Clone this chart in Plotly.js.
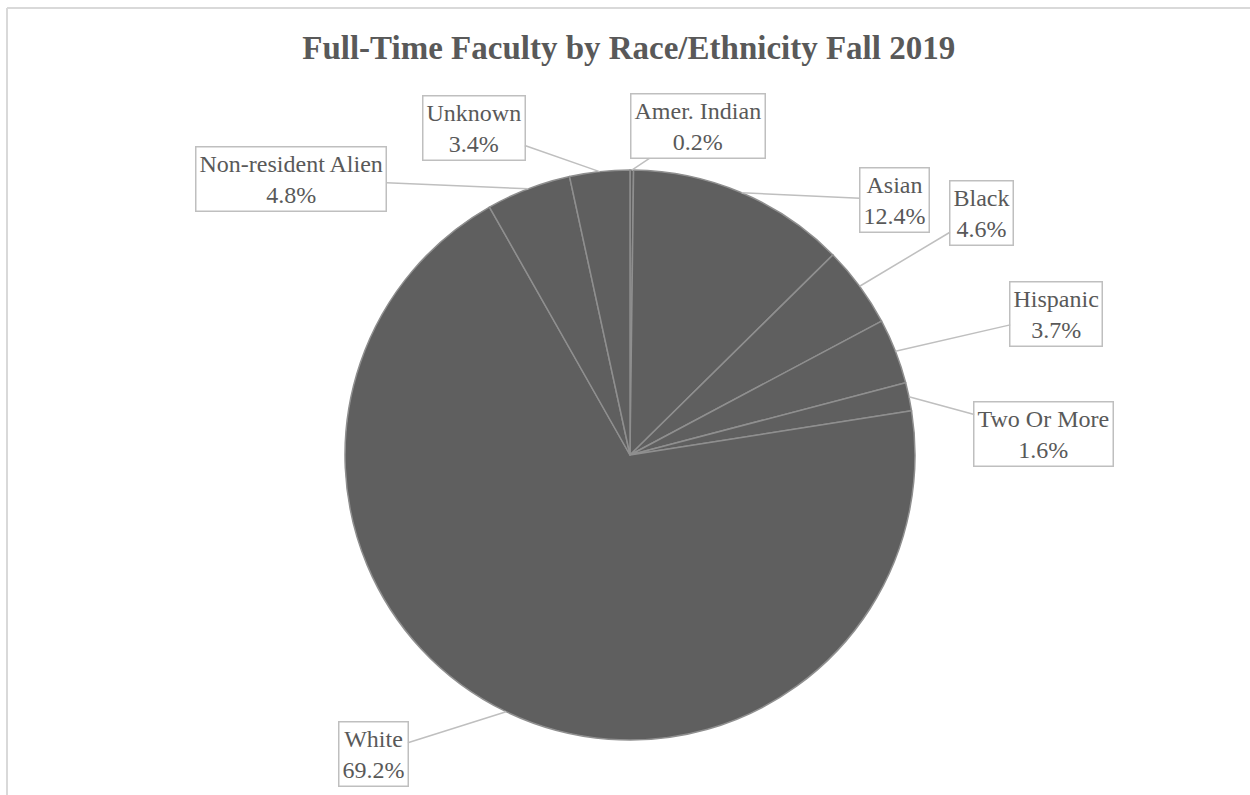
<!DOCTYPE html>
<html>
<head>
<meta charset="utf-8">
<script src="https://cdn.plot.ly/plotly-3.0.1.min.js"></script>
<style>
  html, body { margin: 0; padding: 0; background: #ffffff; }
  #chart { width: 1250px; height: 795px; }
</style>
</head>
<body>
<div id="chart"></div>
<script>
// ---- Data ----
const categories = ["Amer. Indian", "Asian", "Black", "Hispanic", "Two Or More", "White", "Non-resident Alien", "Unknown"];
const percentages = [0.2, 12.4, 4.6, 3.7, 1.6, 69.2, 4.8, 3.4];
const valueLabels = ["0.2%", "12.4%", "4.6%", "3.7%", "1.6%", "69.2%", "4.8%", "3.4%"];

// ---- Layout constants (pixels) ----
const W = 1250, H = 795;
const CX = 630, CY = 455, R = 285;
// label-box centre offsets from each slice's edge point (pixels)
const labelOffsets = [
  [66, -44],   // Amer. Indian
  [153, 7],    // Asian
  [122, -73],  // Black
  [161, -37],  // Hispanic
  [135, 37],   // Two Or More
  [-133, 42],  // White
  [-237, -10], // Non-resident Alien
  [-126, -44]  // Unknown
];

const textColor = '#595959';
const boxColor = '#bfbfbf';
const font = 'Liberation Serif, Times New Roman, serif';

// anchor points on pie edge derived from the data
const total = percentages.reduce((a, b) => a + b, 0);
let cum = 0;
const annotations = categories.map((c, i) => {
  const mid = (cum + percentages[i] / 2) / total;
  cum += percentages[i];
  const ang = mid * 2 * Math.PI; // clockwise from 12 o'clock
  const px = CX + R * Math.sin(ang);
  const py = CY - R * Math.cos(ang);
  return {
    xref: 'paper', yref: 'paper',
    x: px / W, y: 1 - py / H,
    ax: labelOffsets[i][0], ay: labelOffsets[i][1],
    axref: 'pixel', ayref: 'pixel',
    text: c + '<br>' + valueLabels[i],
    showarrow: true, arrowhead: 0, arrowwidth: 1.5, arrowcolor: boxColor,
    standoff: 0,
    bordercolor: boxColor, borderwidth: 1.5, borderpad: 3,
    bgcolor: '#ffffff',
    font: { family: font, size: 24, color: textColor },
    align: 'center'
  };
});

const trace = {
  type: 'pie',
  labels: categories,
  values: percentages,
  sort: false,
  direction: 'clockwise',
  rotation: 0,
  textinfo: 'none',
  hoverinfo: 'label+percent',
  marker: {
    colors: categories.map(() => '#5f5f5f'),
    line: { color: '#8f8f8f', width: 1.5 }
  },
  domain: {
    x: [(CX - R) / W, (CX + R) / W],
    y: [1 - (CY + R) / H, 1 - (CY - R) / H]
  },
  showlegend: false
};

const layout = {
  width: W, height: H,
  margin: { l: 0, r: 0, t: 0, b: 0 },
  paper_bgcolor: '#ffffff',
  showlegend: false,
  title: {
    text: '<b>Full-Time Faculty by Race/Ethnicity Fall 2019</b>',
    font: { family: font, size: 33, color: textColor },
    x: 0.503, xanchor: 'center',
    y: 1 - 47 / H, yanchor: 'middle',
    xref: 'paper', yref: 'paper'
  },
  annotations: annotations,
  shapes: [
    { type: 'line', xref: 'paper', yref: 'paper', x0: 7 / W, x1: 1, y0: 1 - 8 / H, y1: 1 - 8 / H,
      line: { color: '#d9d9d9', width: 2 } },
    { type: 'line', xref: 'paper', yref: 'paper', x0: 7 / W, x1: 7 / W, y0: 1 - 8 / H, y1: 0,
      line: { color: '#d9d9d9', width: 2 } }
  ]
};

Plotly.newPlot('chart', [trace], layout, { displayModeBar: false, staticPlot: true });
</script>
</body>
</html>
